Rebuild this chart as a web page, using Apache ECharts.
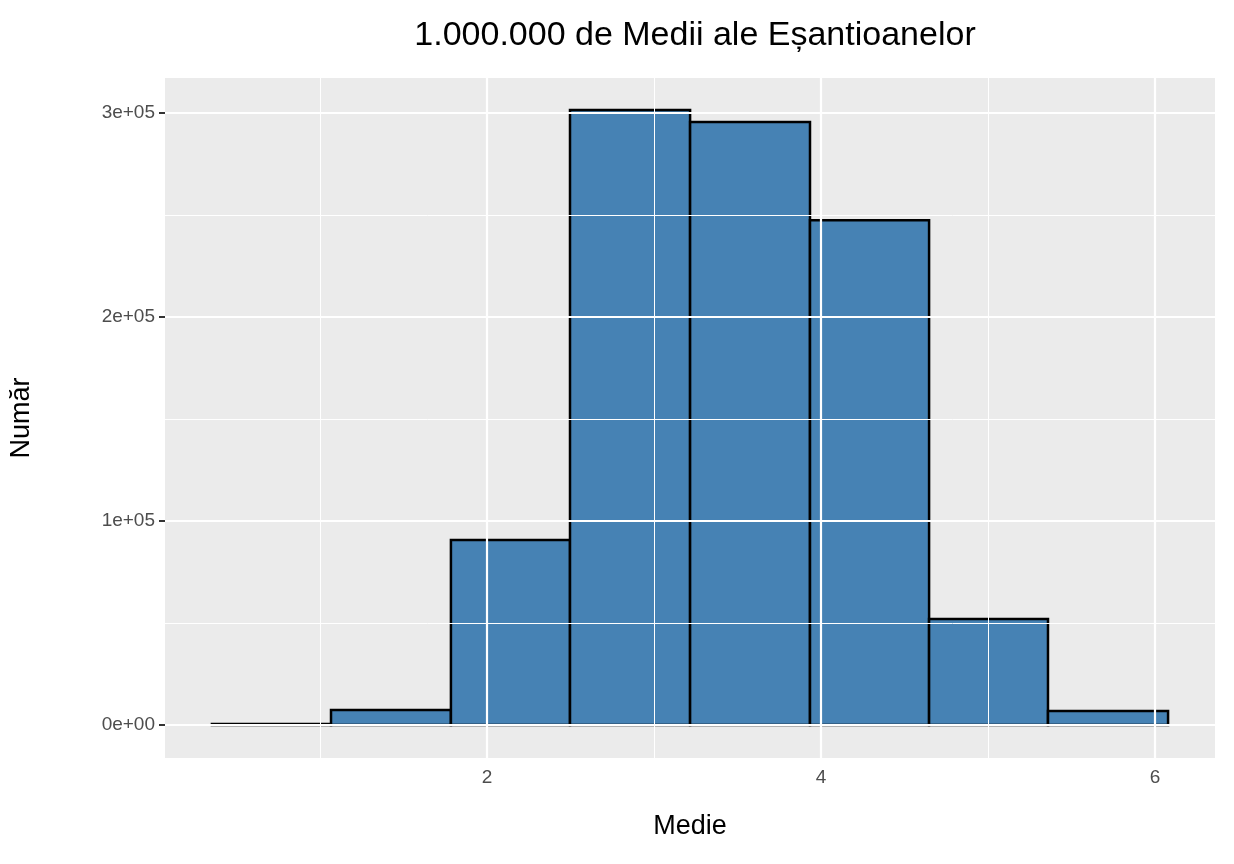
<!DOCTYPE html>
<html><head><meta charset="utf-8">
<script src="https://cdn.jsdelivr.net/npm/echarts@6/dist/echarts.min.js"></script>
<style>html,body{margin:0;padding:0;background:#fff}#c{width:1234px;height:864px}</style>
</head><body><div id="c"></div>
<script>
const binEdges = [0.353, 1.066, 1.784, 2.497, 3.216, 3.934, 4.647, 5.359, 6.078];
const counts = [500, 7300, 90700, 301500, 295600, 247500, 52000, 6900];
const xTicks = [2, 4, 6];
const xMinor = [1, 3, 5];
const yTicks = [0, 100000, 200000, 300000];
const yMinor = [50000, 150000, 250000];

const bins = counts.map((c, i) => [binEdges[i], binEdges[i + 1], c]);
const chart = echarts.init(document.getElementById('c'));
const lab = {color: '#4D4D4D', fontSize: 19, fontFamily: 'Liberation Sans, Arial'};
const ml = (axis, vals, w) => vals.map(v => ({[axis]: v, lineStyle: {color: '#fff', width: w, type: 'solid'}}));
chart.setOption({
  animation: false,
  title: {text: '1.000.000 de Medii ale Eșantioanelor', left: 690, top: 14, textAlign: 'center',
    textStyle: {fontSize: 34, fontWeight: 'normal', color: '#000', fontFamily: 'Liberation Sans, Arial'}},
  grid: {left: 165, right: 19, top: 78, bottom: 106, show: true, backgroundColor: '#EBEBEB', borderWidth: 0},
  xAxis: {type: 'value', min: 0.072, max: 6.359, name: 'Medie', nameLocation: 'middle', nameGap: 55,
    nameTextStyle: {fontSize: 27, color: '#000', fontFamily: 'Liberation Sans, Arial'},
    axisLine: {show: false}, splitLine: {show: false},
    axisTick: {show: true, customValues: xTicks, length: 6, lineStyle: {color: '#333', width: 2}},
    axisLabel: Object.assign({customValues: xTicks, margin: 10}, lab)},
  yAxis: {type: 'value', min: -16200, max: 317200, name: 'Număr', nameLocation: 'middle', nameGap: 130,
    nameTextStyle: {fontSize: 27, color: '#000', fontFamily: 'Liberation Sans, Arial'},
    axisLine: {show: false}, splitLine: {show: false},
    axisTick: {show: true, customValues: yTicks, length: 6, lineStyle: {color: '#333', width: 2}},
    axisLabel: Object.assign({customValues: yTicks, margin: 10,
      formatter: v => v === 0 ? '0e+00' : (v / 100000) + 'e+05'}, lab)},
  series: [
    {type: 'line', data: [], z: 1, silent: true,
      markLine: {silent: true, symbol: 'none', label: {show: false}, animation: false,
        data: [].concat(ml('xAxis', xMinor, 1), ml('xAxis', xTicks, 2.2), ml('yAxis', yMinor, 1), ml('yAxis', yTicks, 2.2))}},
    {type: 'custom', z: 3, data: bins,
      renderItem: (params, api) => {
        const p0 = api.coord([api.value(0), 0]);
        const p1 = api.coord([api.value(1), api.value(2)]);
        return {type: 'rect', shape: {x: p0[0], y: p1[1], width: p1[0] - p0[0], height: p0[1] - p1[1]},
          style: {fill: '#4682B4', stroke: '#000', lineWidth: 2.5}};
      }, encode: {x: [0, 1], y: 2}}
  ]
});
</script></body></html>
